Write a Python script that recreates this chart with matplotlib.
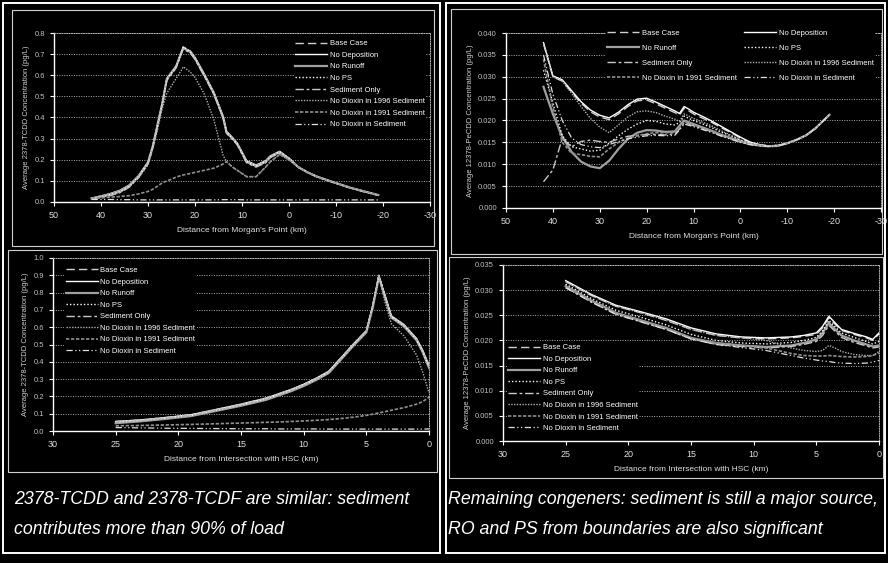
import matplotlib
matplotlib.use("Agg")
import matplotlib.pyplot as plt
from matplotlib.patches import Rectangle
from matplotlib.ticker import FormatStrFormatter

plt.rcParams['font.family'] = ['Liberation Sans', 'DejaVu Sans']
plt.rcParams['axes.unicode_minus'] = False

labels = ['Base Case', 'No Deposition', 'No Runoff', 'No PS', 'Sediment Only',
          'No Dioxin in 1996 Sediment', 'No Dioxin in 1991 Sediment', 'No Dioxin in Sediment']

# ---- top left: 2378-TCDD vs distance from Morgan's Point
x_tl = [42, 40, 38, 36, 34, 32, 30, 29, 28, 27, 26, 25, 24, 23, 22.5, 21, 20, 18, 16, 14,
        13.3, 12, 11, 9, 7, 5, 4, 2, 0, -2, -4, -6, -9, -13, -16, -19]
tl_base = [0.017, 0.025, 0.035, 0.048, 0.075, 0.12, 0.185, 0.26, 0.36, 0.46, 0.58, 0.61, 0.64, 0.70,
           0.735, 0.71, 0.68, 0.60, 0.515, 0.40, 0.33, 0.30, 0.275, 0.19, 0.17, 0.19, 0.214, 0.238,
           0.207, 0.165, 0.14, 0.12, 0.097, 0.068, 0.05, 0.033]
tl_nodep = [0.018, 0.028, 0.040, 0.055, 0.080, 0.125, 0.19, 0.265, 0.365, 0.465, 0.585, 0.615, 0.645,
            0.705, 0.73, 0.715, 0.685, 0.605, 0.52, 0.405, 0.335, 0.305, 0.278, 0.195, 0.175, 0.195,
            0.218, 0.24, 0.207, 0.165, 0.14, 0.12, 0.097, 0.068, 0.05, 0.033]
tl_noro = [0.017, 0.027, 0.038, 0.052, 0.078, 0.122, 0.186, 0.262, 0.362, 0.462, 0.582, 0.612, 0.642,
           0.702, 0.73, 0.71, 0.68, 0.60, 0.515, 0.40, 0.33, 0.30, 0.275, 0.19, 0.17, 0.19, 0.214,
           0.236, 0.205, 0.165, 0.14, 0.12, 0.097, 0.068, 0.05, 0.033]
tl_seds = [0.016, 0.022, 0.030, 0.044, 0.070, 0.115, 0.18, 0.255, 0.355, 0.455, 0.575, 0.605, 0.635,
           0.695, 0.725, 0.705, 0.675, 0.595, 0.51, 0.395, 0.325, 0.295, 0.27, 0.185, 0.165, 0.185,
           0.21, 0.232, 0.203, 0.163, 0.138, 0.118, 0.095, 0.066, 0.048, 0.031]
tl_no96 = [0.017, 0.024, 0.032, 0.045, 0.07, 0.115, 0.175, 0.25, 0.34, 0.44, 0.515, 0.55, 0.585, 0.62,
           0.64, 0.615, 0.59, 0.51, 0.39, 0.22, 0.191, 0.165, 0.15, 0.12, 0.12, 0.165, 0.19, 0.225,
           0.2, 0.165, 0.14, 0.12, 0.097, 0.068, 0.05, 0.033]
tl_no91 = [0.017, 0.02, 0.023, 0.026, 0.03, 0.038, 0.05, 0.06, 0.075, 0.09, 0.10, 0.108, 0.118, 0.125,
           0.128, 0.135, 0.14, 0.15, 0.16, 0.18, 0.191, 0.165, 0.15, 0.12, 0.12, 0.165, 0.19, 0.225,
           0.2, 0.165, 0.14, 0.12, 0.097, 0.068, 0.05, 0.033]
tl_nosed = [0.012, 0.012, 0.012, 0.011, 0.011, 0.010, 0.010, 0.010, 0.010, 0.010, 0.010, 0.010, 0.010,
            0.010, 0.010, 0.010, 0.010, 0.010, 0.010, 0.011, 0.011, 0.011, 0.011, 0.010, 0.010, 0.010,
            0.010, 0.010, 0.010, 0.010, 0.010, 0.010, 0.010, 0.010, 0.010, 0.010]

# ---- top right: 12378-PeCDD vs distance from Morgan's Point
x_tr = [42, 40, 38, 36, 34, 32, 30, 28, 26, 24, 22, 20, 18, 16, 14, 13, 12, 11, 10, 8, 6, 4, 2, 0,
        -2, -4, -6, -8, -10, -12, -14, -16, -19]
tr_base = [0.0376, 0.0300, 0.0290, 0.0265, 0.0240, 0.0220, 0.0208, 0.0202, 0.0215, 0.0232, 0.0245,
           0.0247, 0.0238, 0.0228, 0.0218, 0.0212, 0.0228, 0.0222, 0.0215, 0.0205, 0.0195, 0.0183,
           0.0172, 0.0160, 0.0150, 0.0145, 0.0142, 0.0143, 0.0148, 0.0156, 0.0166, 0.0182, 0.0213]
tr_nodep = [0.0378, 0.0302, 0.0293, 0.0268, 0.0243, 0.0224, 0.0212, 0.0206, 0.0219, 0.0236, 0.0249,
            0.0251, 0.0242, 0.0232, 0.0222, 0.0216, 0.0232, 0.0226, 0.0219, 0.0209, 0.0198, 0.0186,
            0.0174, 0.0162, 0.0151, 0.0145, 0.0142, 0.0143, 0.0148, 0.0156, 0.0166, 0.0182, 0.0213]
tr_noro = [0.0277, 0.0215, 0.0163, 0.0128, 0.0106, 0.0095, 0.0091, 0.0108, 0.0135, 0.0158, 0.0172,
           0.0178, 0.0177, 0.0174, 0.0175, 0.0188, 0.0200, 0.0196, 0.0192, 0.0184, 0.0176, 0.0167,
           0.0160, 0.0152, 0.0146, 0.0143, 0.0141, 0.0142, 0.0148, 0.0156, 0.0166, 0.0182, 0.0213]
tr_nops = [0.0315, 0.0240, 0.0165, 0.0140, 0.0135, 0.0130, 0.0132, 0.0148, 0.0165, 0.0180, 0.0192,
           0.0200, 0.0198, 0.0192, 0.0190, 0.0195, 0.0210, 0.0205, 0.0200, 0.0192, 0.0183, 0.0173,
           0.0165, 0.0155, 0.0148, 0.0144, 0.0142, 0.0143, 0.0148, 0.0156, 0.0166, 0.0182, 0.0213]
tr_seds = [0.0060, 0.0087, 0.0159, 0.0140, 0.0152, 0.0155, 0.0152, 0.0150, 0.0158, 0.0164, 0.0166,
           0.0168, 0.0168, 0.0167, 0.0170, 0.0180, 0.0195, 0.0192, 0.0188, 0.0181, 0.0174, 0.0165,
           0.0158, 0.0151, 0.0146, 0.0143, 0.0141, 0.0142, 0.0148, 0.0156, 0.0166, 0.0182, 0.0213]
tr_no96 = [0.0376, 0.0300, 0.0290, 0.0262, 0.0232, 0.0205, 0.0185, 0.0172, 0.0190, 0.0208, 0.0220,
           0.0222, 0.0218, 0.0210, 0.0203, 0.0198, 0.0215, 0.0210, 0.0205, 0.0196, 0.0187, 0.0176,
           0.0166, 0.0156, 0.0148, 0.0144, 0.0142, 0.0143, 0.0148, 0.0156, 0.0166, 0.0182, 0.0213]
tr_no91 = [0.0340, 0.0230, 0.0150, 0.0125, 0.0122, 0.0118, 0.0117, 0.0135, 0.0150, 0.0160, 0.0165,
           0.0170, 0.0172, 0.0172, 0.0172, 0.0185, 0.0198, 0.0194, 0.0190, 0.0182, 0.0175, 0.0166,
           0.0159, 0.0152, 0.0146, 0.0143, 0.0141, 0.0142, 0.0148, 0.0156, 0.0166, 0.0182, 0.0213]
tr_nosed = [0.0350, 0.0260, 0.0200, 0.0160, 0.0145, 0.0140, 0.0138, 0.0145, 0.0152, 0.0158, 0.0162,
            0.0165, 0.0166, 0.0165, 0.0166, 0.0178, 0.0192, 0.0189, 0.0186, 0.0179, 0.0172, 0.0164,
            0.0157, 0.0150, 0.0145, 0.0142, 0.0141, 0.0142, 0.0148, 0.0156, 0.0166, 0.0182, 0.0213]

# ---- bottom left: 2378-TCDD vs distance from intersection with HSC
x_bl = [25, 23, 21, 19, 17, 15, 13, 12, 11, 10, 9, 8, 7, 6, 5, 4.5, 4, 3.5, 3, 2, 1, 0.5, 0]
bl_base = [0.05, 0.06, 0.075, 0.09, 0.12, 0.15, 0.185, 0.21, 0.235, 0.265, 0.30, 0.34, 0.42, 0.50,
           0.575, 0.72, 0.90, 0.78, 0.66, 0.61, 0.53, 0.46, 0.37]
bl_nodep = [0.055, 0.064, 0.078, 0.094, 0.124, 0.155, 0.19, 0.215, 0.24, 0.27, 0.305, 0.345, 0.425,
            0.505, 0.58, 0.72, 0.895, 0.78, 0.665, 0.615, 0.535, 0.465, 0.38]
bl_noro = [0.045, 0.056, 0.07, 0.086, 0.116, 0.146, 0.18, 0.205, 0.23, 0.26, 0.295, 0.335, 0.415,
           0.495, 0.57, 0.71, 0.89, 0.77, 0.655, 0.605, 0.525, 0.455, 0.365]
bl_no96 = [0.05, 0.06, 0.075, 0.09, 0.12, 0.15, 0.185, 0.21, 0.235, 0.265, 0.30, 0.34, 0.42, 0.50,
           0.575, 0.72, 0.90, 0.74, 0.62, 0.55, 0.44, 0.34, 0.22]
bl_no91 = [0.03, 0.032, 0.035, 0.038, 0.042, 0.046, 0.05, 0.052, 0.055, 0.058, 0.062, 0.066, 0.072,
           0.08, 0.09, 0.097, 0.105, 0.112, 0.12, 0.135, 0.155, 0.17, 0.195]
bl_nosed = [0.02, 0.018, 0.016, 0.015, 0.014, 0.013, 0.013, 0.012, 0.012, 0.012, 0.012, 0.011, 0.011,
            0.011, 0.011, 0.011, 0.011, 0.011, 0.011, 0.011, 0.011, 0.011, 0.012]

# ---- bottom right: 12378-PeCDD vs distance from intersection with HSC
x_br = [25, 23, 21, 19, 17, 15, 13, 11, 9, 7, 6, 5, 4.5, 4, 3.5, 3, 2, 1, 0.5, 0]
br_base = [0.0317, 0.0290, 0.0268, 0.0255, 0.0240, 0.0222, 0.0210, 0.0205, 0.0203, 0.0205, 0.0208,
           0.0212, 0.0225, 0.0245, 0.0232, 0.0220, 0.0212, 0.0205, 0.0200, 0.0213]
br_nodep = [0.0319, 0.0292, 0.0270, 0.0257, 0.0243, 0.0225, 0.0213, 0.0207, 0.0205, 0.0207, 0.0210,
            0.0215, 0.0228, 0.0248, 0.0235, 0.0222, 0.0214, 0.0207, 0.0202, 0.0215]
br_noro = [0.0308, 0.0280, 0.0255, 0.0240, 0.0225, 0.0205, 0.0195, 0.0190, 0.0187, 0.0190, 0.0195,
           0.0202, 0.0215, 0.0235, 0.0222, 0.0210, 0.0200, 0.0192, 0.0188, 0.0190]
br_nops = [0.0312, 0.0284, 0.0260, 0.0246, 0.0231, 0.0212, 0.0200, 0.0195, 0.0193, 0.0196, 0.0200,
           0.0206, 0.0219, 0.0240, 0.0227, 0.0215, 0.0206, 0.0198, 0.0193, 0.0198]
br_seds = [0.0305, 0.0277, 0.0252, 0.0237, 0.0222, 0.0203, 0.0192, 0.0188, 0.0185, 0.0188, 0.0192,
           0.0198, 0.0210, 0.0230, 0.0218, 0.0206, 0.0196, 0.0189, 0.0185, 0.0187]
br_no96 = [0.0317, 0.0290, 0.0268, 0.0255, 0.0240, 0.0222, 0.0210, 0.0205, 0.0200, 0.0185, 0.0180,
           0.0178, 0.0180, 0.0190, 0.0185, 0.0178, 0.0172, 0.0170, 0.0170, 0.0178]
br_no91 = [0.0308, 0.0280, 0.0255, 0.0240, 0.0225, 0.0205, 0.0195, 0.0190, 0.0185, 0.0174, 0.0170,
           0.0169, 0.0169, 0.0170, 0.0169, 0.0168, 0.0167, 0.0168, 0.0170, 0.0175]
br_nosed = [0.0305, 0.0277, 0.0252, 0.0237, 0.0222, 0.0203, 0.0192, 0.0186, 0.0180, 0.0170, 0.0165,
            0.0161, 0.0159, 0.0158, 0.0156, 0.0155, 0.0154, 0.0155, 0.0157, 0.0160]

styles = [('#d0d0d0', (0, (6, 3)), 1.0),
          ('white', '-', 1.0),
          ('#a0a0a0', '-', 1.6),
          ('white', (0, (1, 1.5)), 1.0),
          ('#c8c8c8', (0, (6, 2, 2, 2)), 1.0),
          ('#b0b0b0', (0, (1, 1)), 1.0),
          ('#909090', (0, (2, 1)), 1.2),
          ('#e0e0e0', (0, (5, 2, 1, 2, 1, 2)), 0.9)]

W, H = 888, 563
fig = plt.figure(figsize=(W / 100, H / 100), dpi=100, facecolor='black')


def px_axes(l, t, r, b):
    return fig.add_axes([l / W, 1 - b / H, (r - l) / W, (b - t) / H])


def frame(l, t, r, b, lw, c):
    fig.patches.append(Rectangle((l / W, 1 - b / H), (r - l) / W, (b - t) / H, fill=False,
                                 lw=lw, ec=c, transform=fig.transFigure, figure=fig))


def chart(ax, x, series, xlim, xticks, ylim, yticks, yfmt, ylabel, xlabel):
    ax.set_facecolor('black')
    for ys, lab, (c, ls, lw) in zip(series, labels, styles):
        ax.plot(x, ys, color=c, ls=ls, lw=lw, label=lab)
    ax.set_xlim(*xlim)
    ax.set_ylim(*ylim)
    ax.set_xticks(xticks)
    ax.set_yticks(yticks)
    ax.yaxis.set_major_formatter(FormatStrFormatter(yfmt))
    ax.grid(axis='y', color='#b0b0b0', ls=(0, (1, 1.5)), lw=0.7)
    ax.set_axisbelow(True)
    for s in ['left', 'bottom']:
        ax.spines[s].set_color('white')
        ax.spines[s].set_linewidth(1.0)
    for s in ['top', 'right']:
        ax.spines[s].set_color('#b0b0b0')
        ax.spines[s].set_linestyle((0, (1, 1.5)))
        ax.spines[s].set_linewidth(0.7)
    ax.tick_params(axis='x', colors='white', labelcolor='#e0e0e0', labelsize=6.5, length=3, width=0.8)
    ax.tick_params(axis='y', colors='white', labelcolor='#c0c0c0', labelsize=5.5, length=3, width=0.8)
    ax.set_ylabel(ylabel, color='#d0d0d0', fontsize=5.5, labelpad=3)
    ax.set_xlabel(xlabel, color='#e0e0e0', fontsize=6, labelpad=5)


leg_kw = dict(fontsize=5.5, facecolor='black', edgecolor='none', framealpha=1.0, labelcolor='white',
              handlelength=4.2, handletextpad=0.3, borderpad=0.2, labelspacing=0.55)

# top left
ax1 = px_axes(54, 33, 430, 202)
chart(ax1, x_tl, [tl_base, tl_nodep, tl_noro, tl_base, tl_seds, tl_no96, tl_no91, tl_nosed],
      (50, -30), range(50, -31, -10), (0, 0.8), [i / 10 for i in range(9)], '%.1f',
      'Average 2378-TCDD Concentration (pg/L)', "Distance from Morgan's Point (km)")
ax1.legend(loc='upper right', bbox_to_anchor=(1.0, 0.99), **leg_kw)

# top right, legend in two columns read row by row
ax2 = px_axes(506, 33, 881, 208)
chart(ax2, x_tr, [tr_base, tr_nodep, tr_noro, tr_nops, tr_seds, tr_no96, tr_no91, tr_nosed],
      (50, -30), range(50, -31, -10), (0, 0.04), [i / 200 for i in range(9)], '%.3f',
      'Average 12378-PeCDD Concentration (pg/L)', "Distance from Morgan's Point (km)")
h, l = ax2.get_legend_handles_labels()
order = [0, 2, 4, 6, 1, 3, 5, 7]
ax2.legend([h[i] for i in order], [l[i] for i in order], ncol=2, loc='upper center',
           bbox_to_anchor=(0.625, 1.05), columnspacing=1.0, **dict(leg_kw, labelspacing=1.0))

# bottom left
ax3 = px_axes(53, 258, 429, 431)
chart(ax3, x_bl, [bl_base, bl_nodep, bl_noro, bl_base, bl_nodep, bl_no96, bl_no91, bl_nosed],
      (30, 0), range(30, -1, -5), (0, 1.0), [i / 10 for i in range(11)], '%.1f',
      'Average 2378-TCDD Concentration (pg/L)', 'Distance from Intersection with HSC (km)')
ax3.legend(loc='upper left', bbox_to_anchor=(0.02, 0.98), **leg_kw)

# bottom right
ax4 = px_axes(503, 265, 879, 441)
chart(ax4, x_br, [br_base, br_nodep, br_noro, br_nops, br_seds, br_no96, br_no91, br_nosed],
      (30, 0), range(30, -1, -5), (0, 0.035), [i / 200 for i in range(8)], '%.3f',
      'Average 12378-PeCDD Concentration (pg/L)', 'Distance from Intersection with HSC (km)')
ax4.legend(loc='lower left', bbox_to_anchor=(0.0, 0.02), **leg_kw)

# panel and chart frames
frame(3, 3, 440, 553, 1.4, 'white')
frame(446, 3, 885, 553, 1.4, 'white')
frame(12, 10, 434, 246, 0.8, '#d0d0d0')
frame(8, 250, 437, 472, 0.8, '#d0d0d0')
frame(451, 9, 882, 254, 0.8, '#d0d0d0')
frame(449, 257, 883, 478, 0.8, '#d0d0d0')

cap_kw = dict(color='white', fontsize=12.8, style='italic', va='center')
fig.text(14 / W, 1 - 500 / H, '2378-TCDD and 2378-TCDF are similar: sediment', **cap_kw)
fig.text(14 / W, 1 - 530 / H, 'contributes more than 90% of load', **cap_kw)
fig.text(448 / W, 1 - 500 / H, 'Remaining congeners: sediment is still a major source,', **cap_kw)
fig.text(448 / W, 1 - 530 / H, 'RO and PS from boundaries are also significant', **cap_kw)

fig.savefig('out.png', dpi=100, facecolor='black')
